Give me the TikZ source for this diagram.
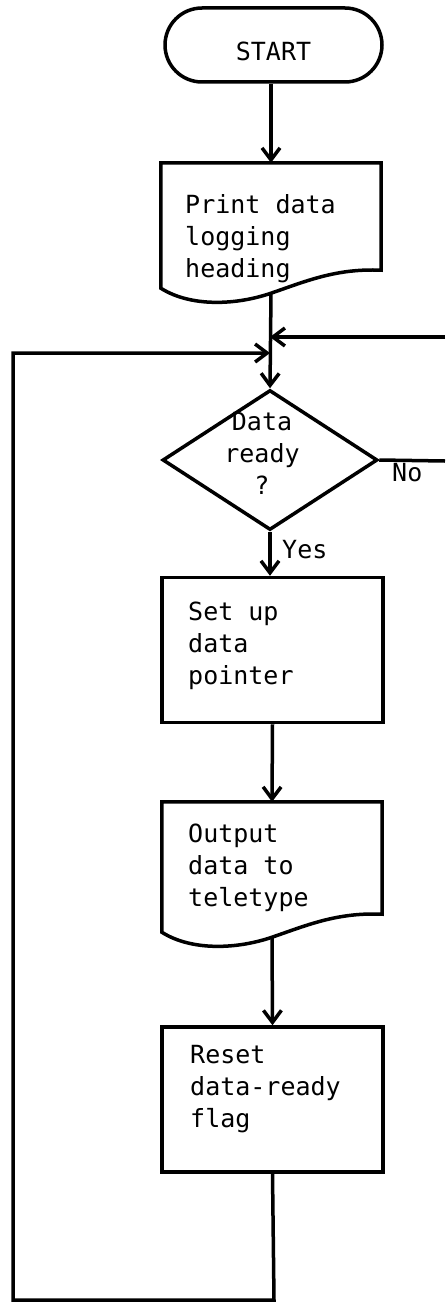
\documentclass[tikz,border=0pt]{standalone}
\usepackage{fontspec}
\newfontfamily\flowfont{DejaVu Sans Mono}
\usetikzlibrary{arrows.meta,shapes.geometric}

% one full monospace cell between words
\newcommand\wsp{\hspace*{0.602em}}

\tikzset{
  line/.style={line width=3.5pt},
  flow/.style={line width=3.5pt,-{Straight Barb[length=12pt,width=18pt]}},
  terminal/.style={draw,line width=3.5pt,rounded corners=37pt,minimum width=217pt,
    minimum height=74pt,inner sep=0pt,text height=31pt,text depth=0pt,
    font=\flowfont\fontsize{25pt}{32pt}\selectfont},
  procbox/.style={draw,line width=3.5pt,minimum width=221pt,minimum height=145pt,inner sep=0pt},
  docarea/.style={minimum width=220pt,inner sep=0pt},
  decisionshape/.style={diamond,draw,line width=3.5pt,minimum width=215pt,
    minimum height=140pt,inner sep=0pt},
  flowtext/.style={font=\flowfont\fontsize{25pt}{32pt}\selectfont,inner sep=0pt,
    text width=200pt,align=left,anchor=base west},
  tag/.style={font=\flowfont\fontsize{25pt}{32pt}\selectfont,inner sep=0pt,anchor=base west}
}

% document symbol: flat top, wavy bottom through the node's south anchor
\newcommand\docoutline[1]{%
  \draw[line] (#1.north west) -- (#1.north east) -- ([yshift=23pt]#1.south east)
    .. controls ([xshift=-45pt,yshift=25pt]#1.south east)
           and ([xshift=35pt,yshift=12pt]#1.south) .. (#1.south)
    .. controls ([xshift=-35pt,yshift=-12pt]#1.south)
           and ([xshift=30pt,yshift=-14pt]#1.south west) .. ([yshift=5pt]#1.south west)
    -- cycle;}

\begin{document}
\begin{tikzpicture}[x=1pt,y=-1pt]
\fill[white] (0,0) rectangle (445,1303);
\useasboundingbox (0,0) rectangle (445,1303);

% shapes
\node[terminal] (start) at (273.5,45) {START};

\node[docarea,minimum height=130pt] (heading) at (271,228) {};
\docoutline{heading}
\node[flowtext] (headingText) at (185,213) {Print\wsp data\\logging\\heading};

\node[decisionshape] (decision) at (270,460) {};
\node[flowtext,text width=100pt,align=center,anchor=base] (decisionText) at (262,430) {Data\\ready\\?};

\node[procbox] (setup) at (272.5,650) {};
\node[flowtext] (setupText) at (188,620) {Set\wsp up\\data\\pointer};

\node[docarea,minimum height=135pt] (output) at (272,869.5) {};
\docoutline{output}
\node[flowtext] (outputText) at (188,842) {Output\\data\wsp to\\teletype};

\node[procbox] (reset) at (272.5,1099.5) {};
\node[flowtext] (resetText) at (190,1063) {Reset\\data-ready\\flag};

% branch labels
\node[tag] (yes) at (282,558) {Yes};
\node[tag] (no) at (392,481) {No};

% junction points and free ends
\coordinate (joinR) at (270,337);
\coordinate (joinL) at (270,353);
\coordinate (retry) at (445,337);
\coordinate (noEnd) at (445,461);
\coordinate (loopBR) at (274,1300);
\coordinate (loopBL) at (13,1300);
\coordinate (loopTL) at (13,353);

% connectors
\draw[flow] (start.south -| heading.north) -- (heading.north);
\draw[flow] (heading.south) -- (decision.north);
\draw[flow] (retry) -- (joinR);
\draw[line] (decision.east) -- (noEnd);
\draw[flow] (decision.south) -- (decision.south |- setup.north);
\draw[flow] (setup.south) -- (output.north);
\draw[flow] (output.south) -- (reset.north);
\draw[flow] (reset.south) -- (loopBR) -- (loopBL) -- (loopTL) -- (joinL);
\end{tikzpicture}
\end{document}
